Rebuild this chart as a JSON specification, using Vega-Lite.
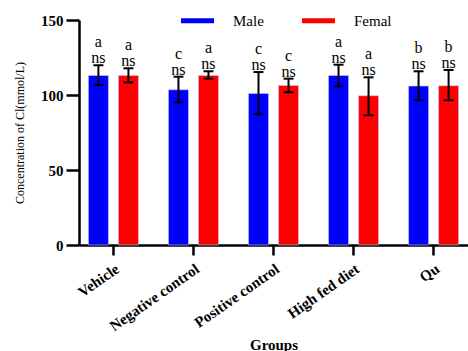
{
"$schema": "https://vega.github.io/schema/vega-lite/v6.json",
"width": 389, "height": 225,
"autosize": {"type": "none"},
"padding": {"left": 79, "top": 20, "right": 0, "bottom": 106},
"background": "white",
"config": {"font": "Liberation Serif", "view": {"stroke": null},
 "axis": {"labelFont": "Liberation Serif", "titleFont": "Liberation Serif"},
 "legend": {"labelFont": "Liberation Serif", "titleFont": "Liberation Serif"},
 "text": {"font": "Liberation Serif"}},
"data": {"values": [
 {"group": "Vehicle", "sex": "Male", "mean": 113, "lo": 106.7, "hi": 119.8, "letter": "a"},
 {"group": "Vehicle", "sex": "Femal", "mean": 113, "lo": 108.4, "hi": 117.8, "letter": "a"},
 {"group": "Negative control", "sex": "Male", "mean": 103.5, "lo": 95.1, "hi": 112.2, "letter": "c"},
 {"group": "Negative control", "sex": "Femal", "mean": 113, "lo": 110.9, "hi": 115.8, "letter": "a"},
 {"group": "Positive control", "sex": "Male", "mean": 101, "lo": 87.1, "hi": 115.3, "letter": "c"},
 {"group": "Positive control", "sex": "Femal", "mean": 106.4, "lo": 101.8, "hi": 110.9, "letter": "c"},
 {"group": "High fed diet", "sex": "Male", "mean": 113, "lo": 105.8, "hi": 120.2, "letter": "a"},
 {"group": "High fed diet", "sex": "Femal", "mean": 99.5, "lo": 86.5, "hi": 111.8, "letter": "a"},
 {"group": "Qu", "sex": "Male", "mean": 106, "lo": 96.5, "hi": 115.8, "letter": "b"},
 {"group": "Qu", "sex": "Femal", "mean": 106.2, "lo": 96.5, "hi": 116.7, "letter": "b"}
]},
"encoding": {
 "x": {"field": "group", "type": "nominal",
  "sort": ["Vehicle", "Negative control", "Positive control", "High fed diet", "Qu"],
  "scale": {"paddingInner": 0.2, "paddingOuter": 0.03},
  "axis": {"title": "Groups", "titleFont": "Liberation Serif", "titleFontSize": 15, "titleFontWeight": "bold", "titleColor": "black",
   "titleY": 104, "titleBaseline": "alphabetic",
   "labelAngle": -35, "labelFont": "Liberation Serif", "labelFontSize": 15, "labelFontWeight": "bold", "labelColor": "black", "labelPadding": 6,
   "tickSize": 10, "tickWidth": 2.5, "tickColor": "black", "domainWidth": 2.5, "domainColor": "black", "grid": false}},
 "xOffset": {"field": "sex", "type": "nominal", "sort": ["Male", "Femal"], "scale": {"paddingInner": 0.333, "paddingOuter": 0.233}}
},
"layer": [
 {"mark": {"type": "bar", "stroke": "#c8c8ff", "strokeWidth": 1, "strokeOpacity": 0.6},
  "encoding": {
   "y": {"field": "mean", "type": "quantitative", "title": "Concentration of Cl(mmol/L)",
    "scale": {"domain": [0, 150], "nice": false},
    "axis": {"values": [0, 50, 100, 150], "grid": false, "domainWidth": 2.5, "domainColor": "black", "tickSize": 13, "tickWidth": 2.5, "tickColor": "black",
     "labelFont": "Liberation Serif", "labelFontSize": 15, "labelFontWeight": "bold", "labelColor": "black", "labelPadding": 3,
     "titleFont": "Liberation Serif", "titleFontSize": 12, "titleFontWeight": "normal", "titleColor": "black", "titlePadding": 14}},
   "color": {"field": "sex", "type": "nominal", "sort": ["Male", "Femal"],
    "scale": {"domain": ["Male", "Femal"], "range": ["#0000ff", "#ff0000"]},
    "legend": {"orient": "none", "legendX": 102, "legendY": -16, "direction": "horizontal", "title": null,
     "symbolType": "M-1,-0.15H1V0.15H-1Z", "symbolSize": 1089, "symbolStrokeWidth": 0, "symbolOpacity": 1,
     "labelFont": "Liberation Serif", "labelFontSize": 15, "labelColor": "black", "labelOffset": 19, "columnPadding": 38}}
  }},
 {"mark": {"type": "rule", "color": "black", "strokeWidth": 2},
  "encoding": {"y": {"field": "lo", "type": "quantitative", "title": "Concentration of Cl(mmol/L)"}, "y2": {"field": "hi"}}},
 {"mark": {"type": "tick", "color": "black", "thickness": 2, "size": 10, "opacity": 1},
  "encoding": {"y": {"field": "lo", "type": "quantitative", "title": "Concentration of Cl(mmol/L)"}}},
 {"mark": {"type": "tick", "color": "black", "thickness": 2, "size": 10, "opacity": 1},
  "encoding": {"y": {"field": "hi", "type": "quantitative", "title": "Concentration of Cl(mmol/L)"}}},
 {"mark": {"type": "text", "font": "Liberation Serif", "baseline": "alphabetic", "dy": -2, "fontSize": 16, "color": "black"},
  "encoding": {"y": {"field": "hi", "type": "quantitative", "title": "Concentration of Cl(mmol/L)"}, "text": {"value": "ns"}}},
 {"mark": {"type": "text", "font": "Liberation Serif", "baseline": "alphabetic", "dy": -18, "fontSize": 16, "color": "black"},
  "encoding": {"y": {"field": "hi", "type": "quantitative", "title": "Concentration of Cl(mmol/L)"}, "text": {"field": "letter"}}}
]
}
